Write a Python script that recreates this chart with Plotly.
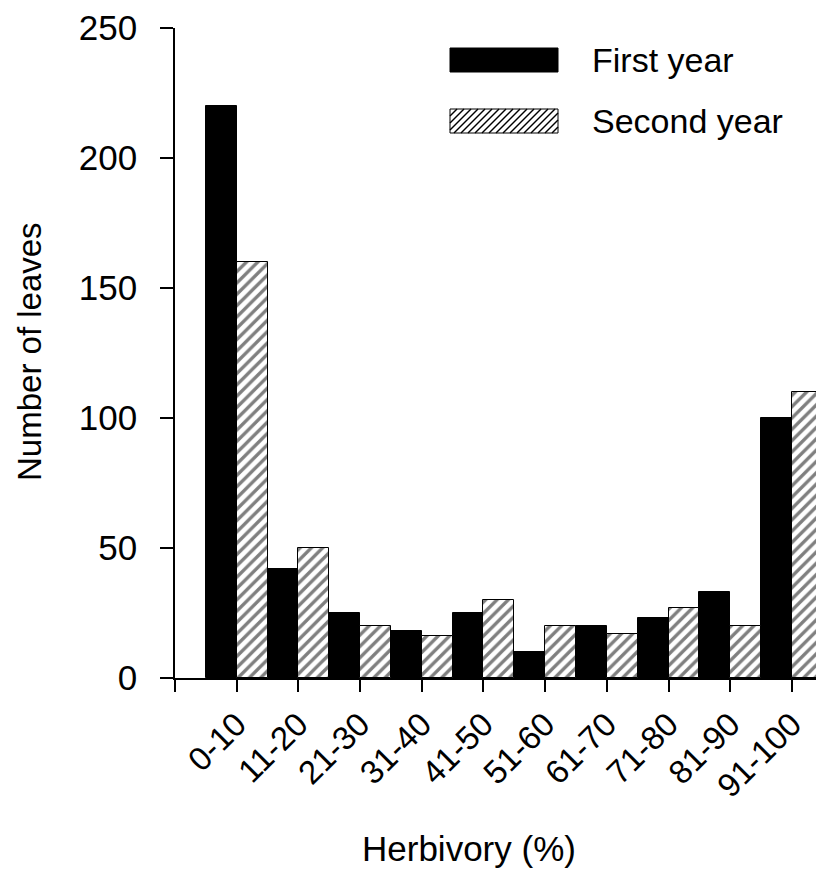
import plotly.graph_objects as go

categories = ["0-10", "11-20", "21-30", "31-40", "41-50", "51-60", "61-70", "71-80", "81-90", "91-100"]
first_year = [220, 42, 25, 18, 25, 10, 20, 23, 33, 100]
second_year = [160, 50, 20, 16, 30, 20, 17, 27, 20, 110]
y_ticks = [0, 50, 100, 150, 200, 250]

OFF = 8  # page body margin in the browser
W, H = 824 - OFF, 873 - OFF
PLOT_L, PLOT_T, PLOT_B = 175, 28, 678  # plot area in page pixels
ML, MR, MT = PLOT_L - OFF, 0, PLOT_T - OFF
MB = H - (PLOT_B - OFF)
PW, PH = W - ML - MR, H - MT - MB
FONT = "Liberation Sans, Arial, sans-serif"

xpos = list(range(len(categories)))

fig = go.Figure()
fig.add_trace(go.Bar(
    x=xpos, y=first_year, name="First year",
    marker=dict(color="black", line=dict(color="black", width=1)),
))
fig.add_trace(go.Bar(
    x=xpos, y=second_year, name="Second year",
    marker=dict(color="white", line=dict(color="black", width=1),
                pattern=dict(shape="/", fgcolor="black", bgcolor="white", size=8, solidity=0.42)),
))


def px_to_paper(px, py):
    return (px - PLOT_L) / PW, (PLOT_B - py) / PH


shapes = []
# legend swatch: black box
x0, y0 = px_to_paper(450, 72)
x1, y1 = px_to_paper(558, 48)
shapes.append(dict(type="rect", xref="paper", yref="paper", x0=x0, y0=y0, x1=x1, y1=y1,
                   fillcolor="black", line=dict(color="black", width=1)))
# legend swatch: hatched box
bx0, by0, bx1, by1 = 450, 109, 558, 133
x0, y0 = px_to_paper(bx0, by1)
x1, y1 = px_to_paper(bx1, by0)
shapes.append(dict(type="rect", xref="paper", yref="paper", x0=x0, y0=y0, x1=x1, y1=y1,
                   fillcolor="white", line=dict(color="black", width=1)))
hgt = by1 - by0
step = 7
c = bx0 - hgt
while c < bx1:
    sx, sy = c, by1
    ex, ey = c + hgt, by0
    if sx < bx0:
        sy = by1 - (bx0 - sx)
        sx = bx0
    if ex > bx1:
        ey = by0 + (ex - bx1)
        ex = bx1
    if ex > sx:
        a0, b0 = px_to_paper(sx, sy)
        a1, b1 = px_to_paper(ex, ey)
        shapes.append(dict(type="line", xref="paper", yref="paper", x0=a0, y0=b0, x1=a1, y1=b1,
                           line=dict(color="black", width=1.4)))
    c += step

annotations = [
    dict(text="First year", xref="paper", yref="paper", x=px_to_paper(590, 0)[0], y=px_to_paper(0, 60)[1],
         xanchor="left", yanchor="middle", showarrow=False, font=dict(size=34, color="black", family=FONT)),
    dict(text="Second year", xref="paper", yref="paper", x=px_to_paper(590, 0)[0], y=px_to_paper(0, 121)[1],
         xanchor="left", yanchor="middle", showarrow=False, font=dict(size=34, color="black", family=FONT)),
    dict(text="Herbivory (%)", xref="paper", yref="paper", x=px_to_paper(469, 0)[0], y=px_to_paper(0, 848)[1],
         xanchor="center", yanchor="middle", showarrow=False, font=dict(size=35, color="black", family=FONT)),
    dict(text="Number of leaves", xref="paper", yref="paper", x=px_to_paper(29, 0)[0], y=px_to_paper(0, 352)[1],
         xanchor="center", yanchor="middle", textangle=-90, showarrow=False,
         font=dict(size=33, color="black", family=FONT)),
]

fig.update_layout(
    width=W, height=H,
    margin=dict(l=ML, r=MR, t=MT, b=MB, autoexpand=False),
    paper_bgcolor="white", plot_bgcolor="white",
    barmode="group", bargap=0, bargroupgap=0,
    showlegend=False,
    font=dict(family=FONT, color="black"),
    shapes=shapes, annotations=annotations,
    xaxis=dict(
        range=[-1, 9.52], tickmode="array", tickvals=[-1] + xpos, ticktext=[""] + categories,
        tickangle=-45, ticks="outside", ticklen=12, tickwidth=1.5, tickcolor="black",
        showline=True, linecolor="black", linewidth=1.5, showgrid=False, zeroline=False,
        tickfont=dict(size=33, color="black", family=FONT), automargin=False,
    ),
    yaxis=dict(
        range=[0, 250], tickmode="array", tickvals=y_ticks,
        ticks="outside", ticklen=13, tickwidth=1.5, tickcolor="black",
        showline=True, linecolor="black", linewidth=1.5, showgrid=False, zeroline=False,
        tickfont=dict(size=35, color="black", family=FONT), ticklabelstandoff=16, automargin=False,
    ),
)
# extend the x-axis baseline slightly left of the y axis, as in the reference
fig.add_shape(type="line", xref="paper", yref="paper", x0=-13 / PW, y0=0, x1=0, y1=0,
              line=dict(color="black", width=1.5))

fig.write_html("out.html")
